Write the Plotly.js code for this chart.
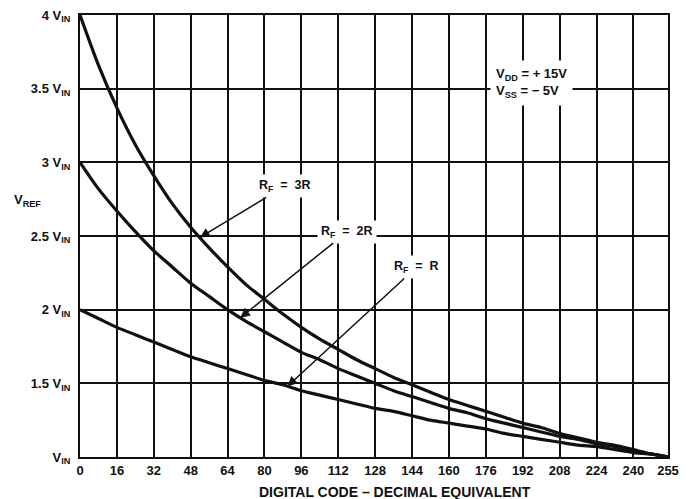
<!DOCTYPE html>
<html>
<head>
<meta charset="utf-8">
<script src="https://cdn.plot.ly/plotly-3.0.1.min.js"></script>
<style>html,body{margin:0;padding:0;background:#fff;}#chart{width:690px;height:499px;}</style>
</head>
<body>
<div id="chart"></div>
<script>
// Digital code (decimal equivalent) sample points
const digitalCode = [0,8,16,24,32,40,48,56,64,72,80,88,96,104,112,120,128,136,144,152,160,168,176,184,192,200,208,216,224,232,240,248,255];
// V_REF in units of V_IN
const vrefRf3R = [4.00,3.66,3.37,3.12,2.91,2.72,2.56,2.42,2.29,2.17,2.07,1.97,1.88,1.80,1.73,1.66,1.60,1.54,1.49,1.44,1.39,1.35,1.31,1.27,1.23,1.20,1.16,1.13,1.10,1.08,1.05,1.02,1.00];
const vrefRf2R = [3.00,2.82,2.67,2.53,2.40,2.29,2.18,2.09,2.00,1.92,1.85,1.78,1.71,1.66,1.60,1.55,1.50,1.45,1.41,1.37,1.33,1.30,1.26,1.23,1.20,1.17,1.14,1.12,1.09,1.07,1.04,1.02,1.00];
const vrefRfR  = [2.00,1.94,1.88,1.83,1.78,1.73,1.68,1.64,1.60,1.56,1.52,1.49,1.45,1.42,1.39,1.36,1.33,1.31,1.28,1.25,1.23,1.21,1.19,1.16,1.14,1.12,1.10,1.08,1.07,1.05,1.03,1.02,1.00];
const seriesNames = ['R<sub>F</sub>\u00a0 =\u00a0 3R','R<sub>F</sub>\u00a0 =\u00a0 2R','R<sub>F</sub>\u00a0 =\u00a0 R'];

// Axis ticks
const xTickVals = [0,16,32,48,64,80,96,112,128,144,160,176,192,208,224,240,255];
const xTickText = ['0','16','32','48','64','80','96','112','128','144','160','176','192','208','224','240','255'];
const yTickVals = [1,1.5,2,2.5,3,3.5,4];
const yTickText = ['V<sub>IN</sub>','1.5 V<sub>IN</sub>','2 V<sub>IN</sub>','2.5 V<sub>IN</sub>','3 V<sub>IN</sub>','3.5 V<sub>IN</sub>','4 V<sub>IN</sub>'];

const FONT = '"Liberation Sans", Arial, Helvetica, sans-serif';

function interp(xs, ys, x) {
  for (let i = 0; i < xs.length - 1; i++) {
    if (x >= xs[i] && x <= xs[i+1]) {
      const t = (x - xs[i]) / (xs[i+1] - xs[i]);
      return ys[i] + t * (ys[i+1] - ys[i]);
    }
  }
  return ys[ys.length - 1];
}

const allSeries = [vrefRf3R, vrefRf2R, vrefRfR];
const traces = allSeries.map((ys, i) => ({
  type: 'scatter', mode: 'lines', x: digitalCode, y: ys, name: seriesNames[i],
  line: {color: '#111', width: 3.2, shape: 'spline', smoothing: 0.8},
  hoverinfo: 'skip', showlegend: false
}));

// label position (ax, ay) and arrow target code
const labelPos = [
  {ax: 89, ay: 2.84, tip: 52},
  {ax: 116, ay: 2.53, tip: 69.5},
  {ax: 146, ay: 2.29, tip: 90}
];

const annotations = labelPos.map((p, i) => ({
  x: p.tip, y: interp(digitalCode, allSeries[i], p.tip), xref: 'x', yref: 'y',
  ax: p.ax, ay: p.ay, axref: 'x', ayref: 'y',
  text: '<b>' + seriesNames[i] + '</b>', showarrow: true,
  arrowhead: 2, arrowsize: 1.3, arrowwidth: 1.5, arrowcolor: '#111',
  bgcolor: '#fff', borderpad: 3,
  font: {family: FONT, size: 12.5, color: '#111'}
}));

annotations.push({
  x: 178, y: 3.54, xref: 'x', yref: 'y', xanchor: 'left', yanchor: 'middle', align: 'left',
  text: '<b>V<sub>DD</sub> = + 15V<br>V<sub>SS</sub> = − 5V</b>', showarrow: false,
  bgcolor: '#fff', borderpad: 5,
  font: {family: FONT, size: 13, color: '#111'}
});
annotations.push({
  x: -0.09, y: 2.74, xref: 'paper', yref: 'y', xanchor: 'center', yanchor: 'middle',
  text: '<b>V<sub>REF</sub></b>', showarrow: false,
  font: {family: FONT, size: 13, color: '#111'}
});
annotations.push({
  x: 0.536, y: -0.079, xref: 'paper', yref: 'paper', xanchor: 'center', yanchor: 'middle',
  text: '<b>DIGITAL CODE – DECIMAL EQUIVALENT</b>', showarrow: false,
  font: {family: FONT, size: 14, color: '#111'}
});

const layout = {
  width: 690, height: 499,
  margin: {l: 80, r: 22, t: 15, b: 42},
  paper_bgcolor: '#fff', plot_bgcolor: '#fff',
  showlegend: false,
  xaxis: {
    range: [0, 255], tickvals: xTickVals, ticktext: xTickText,
    showgrid: true, gridcolor: '#111', gridwidth: 1.6,
    showline: true, linecolor: '#111', linewidth: 2.2, mirror: true,
    zeroline: false, ticks: '',
    tickfont: {family: FONT, size: 13, color: '#111', weight: 'bold'}
  },
  yaxis: {
    range: [1, 4], tickvals: yTickVals, ticktext: yTickText,
    showgrid: true, gridcolor: '#111', gridwidth: 1.6,
    showline: true, linecolor: '#111', linewidth: 2.2, mirror: true,
    zeroline: false, ticks: '', ticklabelstandoff: 5,
    tickfont: {family: FONT, size: 13, color: '#111', weight: 'bold'}
  },
  annotations: annotations
};

Plotly.newPlot('chart', traces, layout, {displayModeBar: false});
</script>
</body>
</html>
